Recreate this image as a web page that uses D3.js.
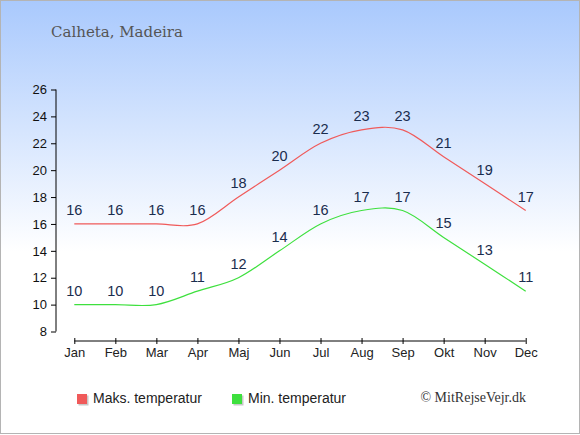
<!DOCTYPE html>
<html><head><meta charset="utf-8">
<script src="https://cdn.jsdelivr.net/npm/d3@7"></script>
<style>body{margin:0;padding:0;overflow:hidden}svg{display:block}</style>
</head><body>
<script>
const months = ["Jan","Feb","Mar","Apr","Maj","Jun","Jul","Aug","Sep","Okt","Nov","Dec"];
const maxTemp = [16,16,16,16,18,20,22,23,23,21,19,17];
const minTemp = [10,10,10,11,12,14,16,17,17,15,13,11];
const yTicks = [8,10,12,14,16,18,20,22,24,26];
const title = "Calheta, Madeira";
const legendLabels = ["Maks. temperatur","Min. temperatur"];
const credit = "© MitRejseVejr.dk";

const W = 580, H = 435;
const svg = d3.select("body").append("svg").attr("width", W).attr("height", H);
const defs = svg.append("defs");
const grad = defs.append("linearGradient").attr("id","bg").attr("x1",0).attr("y1",0).attr("x2",0).attr("y2",1);
grad.append("stop").attr("offset","0").attr("stop-color","#a9c9fd");
grad.append("stop").attr("offset","0.58").attr("stop-color","#ffffff");
grad.append("stop").attr("offset","1").attr("stop-color","#ffffff");
svg.append("rect").attr("x",0.5).attr("y",0.5).attr("width",W-1).attr("height",H-2)
  .attr("fill","url(#bg)").attr("stroke","#b4b4b4").attr("stroke-width",1);

const x = d3.scalePoint().domain(months).range([74.3, 525.7]);
const y = d3.scaleLinear().domain([8,26]).range([331.5, 89.5]);

svg.append("text").attr("x",51).attr("y",37).attr("font-family","DejaVu Serif")
  .attr("font-size",15).attr("fill","#555").text(title);

// Y axis
const yAxis = svg.append("g").attr("transform","translate(56,0)")
  .call(d3.axisLeft(y).tickValues(yTicks).tickSize(5).tickPadding(4).tickFormat(d3.format("d")));
yAxis.select(".domain").attr("stroke","#000").attr("d", `M0,${y(26)}V${y(8)}`);
yAxis.selectAll("text").attr("font-family","Liberation Sans").attr("font-size",13).attr("fill","#111");

// X axis
const xAxis = svg.append("g").attr("transform","translate(0,341)")
  .call(d3.axisBottom(x).tickSize(3).tickPadding(4));
xAxis.select(".domain").attr("stroke","#000").attr("d", `M${x("Jan")},0H${x("Dec")}`);
xAxis.selectAll(".tick line").attr("y1",-3).attr("y2",3);
xAxis.selectAll("text").attr("font-family","Liberation Sans").attr("font-size",13).attr("fill","#222");

const line = d3.line().x((d,i)=>x(months[i])).y(d=>y(d)).curve(d3.curveCardinal.tension(0));
const series = [{vals:maxTemp,color:"#f05a5a"},{vals:minTemp,color:"#3ee03e"}];
series.forEach(s=>{
  svg.append("path").attr("d",line(s.vals)).attr("fill","none").attr("stroke",s.color).attr("stroke-width",1.2);
  svg.append("g").selectAll("text").data(s.vals).join("text")
    .attr("x",(d,i)=>x(months[i])).attr("y",d=>y(d)-9).attr("text-anchor","middle")
    .attr("font-family","Liberation Sans").attr("font-size",14.5).attr("fill","#1a2c4e").text(d=>d);
});

// Legend
const legX = [77, 232];
legendLabels.forEach((lab,i)=>{
  const g = svg.append("g");
  g.append("rect").attr("x",legX[i]+1.5).attr("y",395.5).attr("width",10).attr("height",10).attr("fill","#c8c8c8");
  g.append("rect").attr("x",legX[i]).attr("y",394).attr("width",10).attr("height",10).attr("fill",series[i].color);
  g.append("text").attr("x",legX[i]+16).attr("y",403).attr("font-family","Liberation Sans")
    .attr("font-size",14).attr("fill","#222").text(lab);
});
svg.append("text").attr("x",526).attr("y",402).attr("text-anchor","end").attr("font-family","Liberation Serif")
  .attr("font-size",14).attr("fill","#333").text(credit);
</script>
</body></html>
